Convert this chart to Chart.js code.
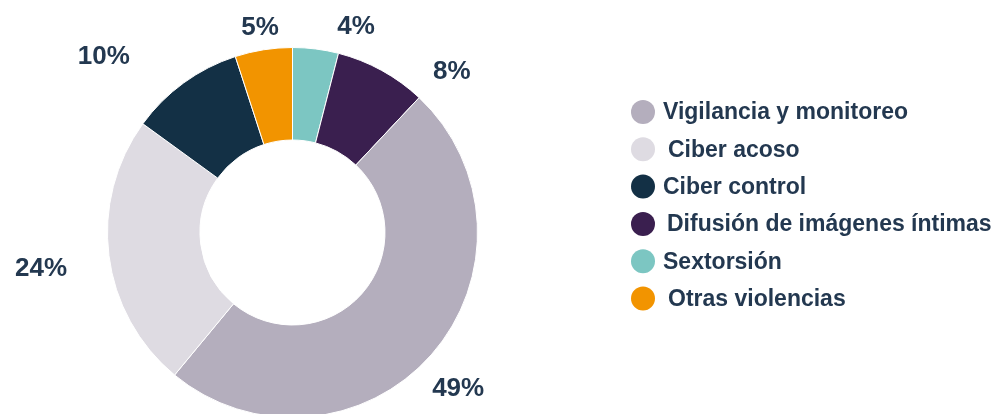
<!DOCTYPE html>
<html>
<head>
<meta charset="utf-8">
<script src="https://cdn.jsdelivr.net/npm/chart.js@4/dist/chart.umd.min.js"></script>
<style>
    html, body { margin: 0; padding: 0; background: #ffffff; overflow: hidden; }
    #wrap { width: 994px; height: 414px; overflow: hidden; position: relative; }
</style>
</head>
<body>
<div id="wrap"><canvas id="grafico" width="994" height="420"></canvas></div>
<script>
// Datos (orden de dibujo, en sentido horario desde arriba)
const categorias = ["Sextorsión", "Difusión de imágenes íntimas", "Vigilancia y monitoreo", "Ciber acoso", "Ciber control", "Otras violencias"];
const porcentajes = [4, 8, 49, 24, 10, 5];
const etiquetas = ["4%", "8%", "49%", "24%", "10%", "5%"];
const colores = ["#7cc6c2", "#3a1f4f", "#b4aebd", "#dedbe2", "#133045", "#f29400"];

// Orden de la leyenda
const ordenLeyenda = ["Vigilancia y monitoreo", "Ciber acoso", "Ciber control", "Difusión de imágenes íntimas", "Sextorsión", "Otras violencias"];
const sangriaLeyenda = [0, 5, 0, 4, 0, 5];

// Colocación de las etiquetas: [distancia extra al borde, giro en grados]
const colocacion = [[30, 10], [41, 16], [43, 2], [69, -1], [73, -11], [22, 0]];

const colorTexto = "#233850";
const fuente = "'Liberation Sans', Arial, sans-serif";

const etiquetasPlugin = {
    id: "etiquetas",
    afterDatasetsDraw(chart) {
        const ctx = chart.ctx;
        const arcs = chart.getDatasetMeta(0).data;
        ctx.save();
        ctx.fillStyle = colorTexto;
        ctx.font = "bold 26px " + fuente;
        ctx.textAlign = "center";
        ctx.textBaseline = "middle";
        arcs.forEach((arc, i) => {
            const p = arc.getProps(["x", "y", "startAngle", "endAngle", "outerRadius"], true);
            const ang = (p.startAngle + p.endAngle) / 2 + colocacion[i][1] * Math.PI / 180;
            const r = p.outerRadius + colocacion[i][0];
            ctx.fillText(etiquetas[i], p.x + Math.cos(ang) * r, p.y + Math.sin(ang) * r);
        });
        ctx.restore();
    }
};

const leyendaPlugin = {
    id: "leyenda",
    afterDraw(chart) {
        const ctx = chart.ctx;
        ctx.save();
        ctx.font = "bold 23px " + fuente;
        ctx.textBaseline = "middle";
        ordenLeyenda.forEach((nombre, k) => {
            const i = categorias.indexOf(nombre);
            const y = 112 + k * 37.3;
            ctx.fillStyle = colores[i];
            ctx.beginPath();
            ctx.arc(643, y, 12, 0, Math.PI * 2);
            ctx.fill();
            ctx.fillStyle = colorTexto;
            ctx.fillText(nombre, 663 + sangriaLeyenda[k], y + 1);
        });
        ctx.restore();
    }
};

new Chart(document.getElementById("grafico"), {
    type: "doughnut",
    data: {
        labels: categorias,
        datasets: [{
            data: porcentajes,
            backgroundColor: colores,
            borderColor: "#ffffff",
            borderWidth: 1
        }]
    },
    options: {
        responsive: false,
        animation: false,
        cutout: "50%",
        layout: { padding: { left: 107, right: 516, top: 47, bottom: 2 } },
        plugins: {
            legend: { display: false },
            tooltip: { enabled: false }
        }
    },
    plugins: [etiquetasPlugin, leyendaPlugin]
});
</script>
</body>
</html>
